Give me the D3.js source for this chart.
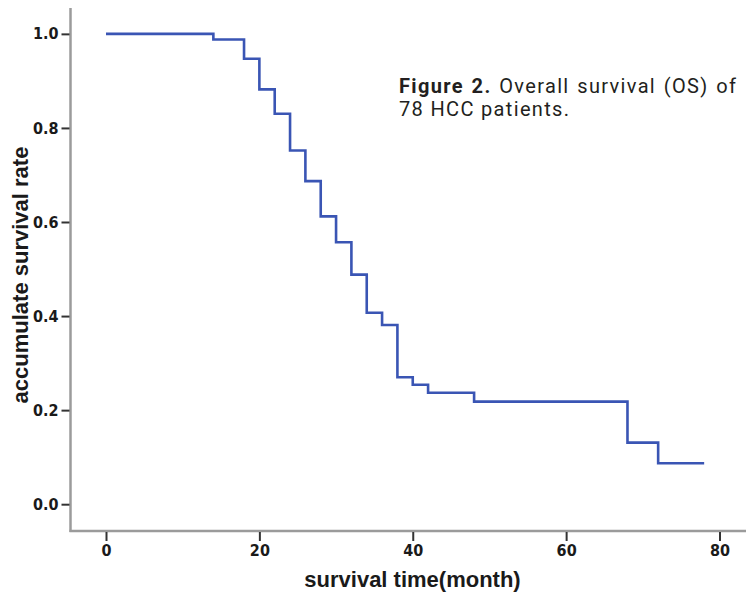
<!DOCTYPE html>
<html>
<head>
<title>Overall survival</title>
<script src="https://d3js.org/d3.v7.min.js"></script>
<style>
body,html {
  margin: 0;
  padding: 0;
  background: #fff;
}
svg {
  display: block;
}
.tick text {
  font-family: "Liberation Sans Narrow", "DejaVu Sans Condensed", "Liberation Sans", sans-serif;
  font-weight: bold;
  font-size: 16px;
  fill: #1a1a1a;
}
</style>
</head>
<body>

<svg id="chart" width="746" height="600"></svg>

<script>
// KM step curve
const months   = [0, 14, 18, 20, 22, 24, 26, 28, 30, 32, 34, 36, 38, 40, 42, 48, 68, 72, 78];
const survival = [1.0, 0.988, 0.947, 0.882, 0.830, 0.752, 0.687, 0.612, 0.557, 0.488, 0.407, 0.381, 0.270, 0.254, 0.237, 0.218, 0.131, 0.087, 0.087];

const xTicks = [0, 20, 40, 60, 80];
const yTicks = [0.0, 0.2, 0.4, 0.6, 0.8, 1.0];

const xTitle = "survival time(month)";
const yTitle = "accumulate survival rate";
const captionBold = "Figure 2.";
const captionLine1 = " Overall survival (OS) of";
const captionLine2 = "78 HCC patients.";

function main() {
  const svg = d3.select("#chart");

  let xScale = d3.scaleLinear().domain([0, 80]).range([106, 719.5]);
  let yScale = d3.scaleLinear().domain([-0.057, 1.055]).range([531, 8]);

  let frameLeft = 70.5, frameBottom = 531;

  // axis frame lines (gray)
  svg.append("line")
     .attr("x1", frameLeft).attr("x2", frameLeft)
     .attr("y1", yScale(1.055)).attr("y2", frameBottom + 1)
     .attr("stroke", "#9b9b9b").attr("stroke-width", 2.5);
  svg.append("line")
     .attr("x1", frameLeft - 1).attr("x2", 746)
     .attr("y1", frameBottom).attr("y2", frameBottom)
     .attr("stroke", "#9b9b9b").attr("stroke-width", 2.5);

  let yAxis = d3.axisLeft(yScale)
                .tickValues(yTicks)
                .tickFormat(d3.format(".1f"))
                .tickSize(8)
                .tickPadding(3);

  let gy = svg.append("g")
     .attr("transform", "translate(" + (frameLeft - 1) + ",0)")
     .call(yAxis);
  gy.select(".domain").remove();
  gy.selectAll(".tick line").attr("stroke", "#333").attr("stroke-width", 2);

  let xAxis = d3.axisBottom(xScale)
                .tickValues(xTicks)
                .tickFormat(d3.format("d"))
                .tickSize(9)
                .tickPadding(4);

  let gx = svg.append("g")
     .attr("transform", "translate(0," + (frameBottom + 1) + ")")
     .call(xAxis);
  gx.select(".domain").remove();
  gx.selectAll(".tick line").attr("stroke", "#333").attr("stroke-width", 2);

  // survival curve
  let xy = months.map((d, i) => ({ x: d, y: survival[i] }));
  let kmLine = d3.line()
                 .x(d => xScale(d.x))
                 .y(d => yScale(d.y))
                 .curve(d3.curveStepAfter);

  svg.append("path")
     .attr("fill", "none")
     .attr("stroke", "#3a55b4")
     .attr("stroke-width", 2.6)
     .attr("d", kmLine(xy));

  // axis titles
  svg.append("text")
     .attr("x", 412.5)
     .attr("y", 587)
     .attr("text-anchor", "middle")
     .style("font-family", "'Liberation Sans', Arial, sans-serif")
     .style("font-weight", "bold")
     .style("font-size", "22px")
     .attr("fill", "#1a1a1a")
     .text(xTitle);

  svg.append("text")
     .attr("transform", "translate(28,275) rotate(-90)")
     .attr("text-anchor", "middle")
     .style("font-family", "'Liberation Sans', Arial, sans-serif")
     .style("font-weight", "bold")
     .style("font-size", "22px")
     .attr("fill", "#1a1a1a")
     .text(yTitle);

  // caption: second line sets letter spacing, first line justified by word spacing
  let cap = svg.append("g")
     .style("font-family", "Roboto, 'Open Sans', sans-serif")
     .style("font-size", "20px")
     .attr("fill", "#231f20");

  let t2 = cap.append("text")
     .attr("x", 399).attr("y", 116)
     .text(captionLine2);
  let w2 = t2.node().getComputedTextLength();
  let ls = Math.max(0, (170 - w2) / (captionLine2.length - 1));
  t2.style("letter-spacing", ls + "px");

  let t1 = cap.append("text")
     .attr("x", 399).attr("y", 93)
     .style("letter-spacing", ls + "px");
  t1.append("tspan").style("font-weight", "bold").text(captionBold);
  t1.append("tspan").text(captionLine1);
  let w1 = t1.node().getComputedTextLength();
  let nSpaces = (captionBold + captionLine1).split(" ").length - 1;
  t1.style("word-spacing", ((337 + ls - w1) / nSpaces) + "px");
}

main();
</script>

</body>
</html>
